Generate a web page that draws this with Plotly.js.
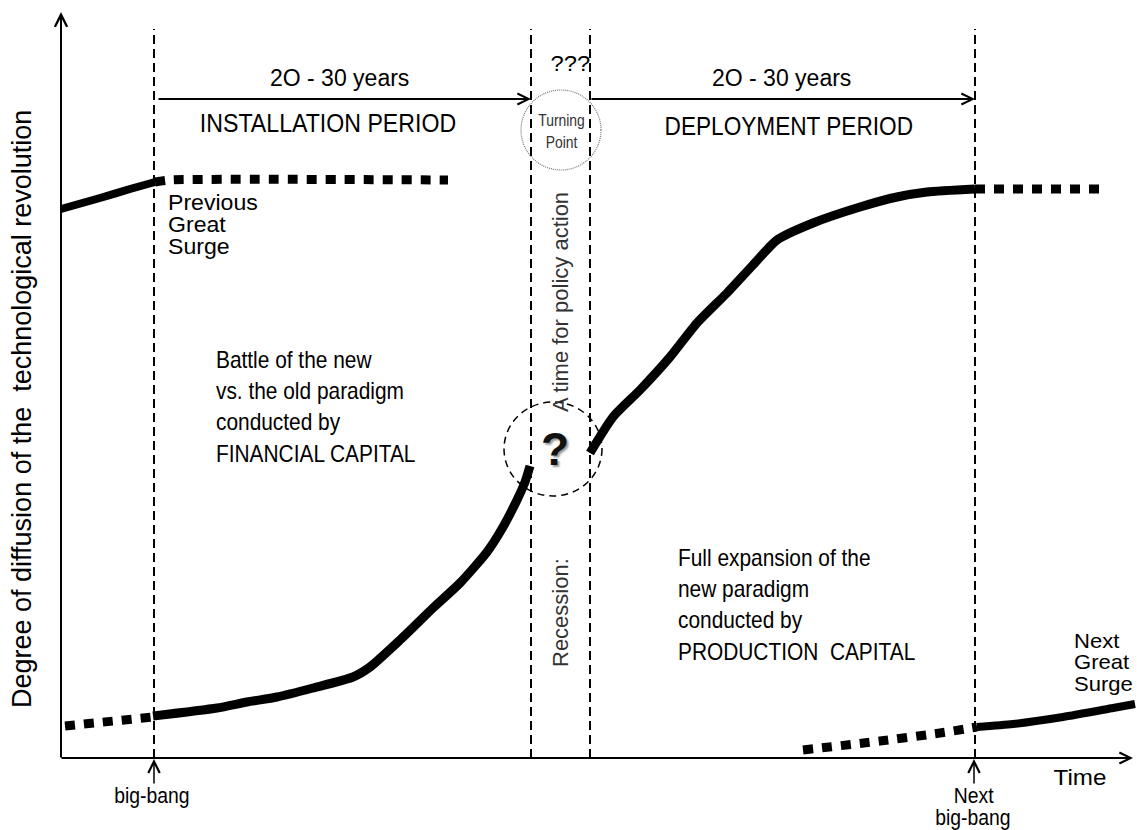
<!DOCTYPE html>
<html><head><meta charset="utf-8">
<script src="https://cdn.plot.ly/plotly-3.0.1.min.js"></script>
<style>html,body{margin:0;padding:0;background:#fff;} #chart{width:1137px;height:830px;}</style>
</head><body><div id="chart"></div>
<script>
// x = time (arbitrary units from origin), y = degree of diffusion (arbitrary units)
const prevSurgeTime = [0, 39, 69, 94];
const prevSurgeDiff = [549, 560, 569, 576];
const prevSurgeTailTime = [94, 109, 387];
const prevSurgeTailDiff = [576, 578, 578];
const leadInTime = [4, 92];
const leadInDiff = [32, 41];
const installTime = [92, 156, 186, 216, 252, 292, 309, 339, 372, 399, 426, 442, 456, 464, 469];
const installDiff = [42, 50, 56, 61, 70, 81, 91, 118, 150, 175, 206, 231, 258, 276, 292];
const deployTime = [529, 552, 579, 609, 636, 666, 692, 716, 752, 799, 836, 866, 914];
const deployDiff = [305, 341, 368, 401, 435, 465, 493, 518, 535, 551, 561, 566, 569];
const deployTailTime = [914, 1043];
const deployTailDiff = [569, 569];
const nextLeadTime = [742, 819, 879, 916];
const nextLeadDiff = [8, 17, 25, 31];
const nextSurgeTime = [916, 952, 1002, 1052, 1074];
const nextSurgeDiff = [31, 34, 41, 50, 54];
const phaseBoundaries = [93, 470, 529, 914];
const phaseTop = 729;
const bigBangTimes = [93, 913];
const periodArrowLevel = 659;
const periods = [
  {from: 96, to: 470, span: '2O - 30 years', name: 'INSTALLATION PERIOD'},
  {from: 529, to: 914, span: '2O - 30 years', name: 'DEPLOYMENT PERIOD'}
];
const yTitle = 'Degree of diffusion of the  technological revolution';
const xTitle = 'Time';

const ARIAL = '"Liberation Sans", Arial, sans-serif';
const NARROW = 0.87;   // Arial Narrow look, made by condensing Liberation Sans

function line(x, y, w, dash) {
  return {x: x, y: y, type: 'scatter', mode: 'lines', hoverinfo: 'skip',
    line: {color: '#000', width: w, dash: dash || 'solid', shape: 'spline', smoothing: 0.6}};
}
const DOT = '10px,9px';
const traces = [
  line(prevSurgeTime, prevSurgeDiff, 8),
  line(prevSurgeTailTime, prevSurgeTailDiff, 9, DOT),
  line(leadInTime, leadInDiff, 9, DOT),
  line(installTime, installDiff, 9),
  line(deployTime, deployDiff, 9),
  line(deployTailTime, deployTailDiff, 9, DOT),
  line(nextLeadTime, nextLeadDiff, 9, DOT),
  line(nextSurgeTime, nextSurgeDiff, 8)
];

const shapes = phaseBoundaries.map(t => ({type: 'line', xref: 'x', yref: 'y', x0: t, x1: t, y0: 0, y1: phaseTop,
  line: {color: '#000', width: 2, dash: '9px,5px'}}));
shapes.push({type: 'circle', xref: 'x', yref: 'y', x0: 460, x1: 540, y0: 588, y1: 668,
  line: {color: '#777', width: 1.2, dash: '1px,1px'}});
shapes.push({type: 'circle', xref: 'x', yref: 'y', x0: 443, x1: 541, y0: 262, y1: 356,
  line: {color: '#000', width: 1.5, dash: '7px,5px'}});

const annotations = [];
const stretch = {};
function arrow(x, y, ax, ay, w, size) {
  annotations.push({x: x, y: y, ax: ax, ay: ay, xref: 'x', yref: 'y', axref: 'x', ayref: 'y', text: '',
    showarrow: true, arrowhead: 5, arrowwidth: w, arrowsize: size, arrowcolor: '#000', standoff: 0});
}
function txt(x, y, text, size, opts, scaleX, color) {
  if (scaleX && scaleX !== 1) stretch[annotations.length] = {anchor: (opts && opts.xanchor) || 'center', s: scaleX};
  annotations.push(Object.assign({x: x, y: y, xref: 'x', yref: 'y', text: text, showarrow: false,
    font: {family: ARIAL, size: size, color: color || '#000'}}, opts || {}));
}
arrow(0, 746, 0, -1, 2, 1.2);
arrow(1072, 0, -1, 0, 2, 1.1);
periods.forEach(p => arrow(p.to, periodArrowLevel, p.from, periodArrowLevel, 2, 1.1));
bigBangTimes.forEach(t => arrow(t, -1, t, -27, 1.5, 1.5));

txt(278, 680, periods[0].span, 23);
txt(720, 680, periods[1].span, 23);
txt(267, 635, periods[0].name, 26, null, 0.89);
txt(728, 632, periods[1].name, 26, null, 0.87);
txt(509, 695, '???', 22, null, 1.08);
txt(500, 627, 'Turning<br>Point', 17, null, 0.82, '#333');
['Previous', 'Great', 'Surge'].forEach((s, i) => txt(105, 556 - i * 22, s, 22, {xanchor: 'left'}, 1.05));
['Next', 'Great', 'Surge'].forEach((s, i) => txt(1011, 118 - i * 21.5, s, 21, {xanchor: 'left'}, 1.05));
txt(153, 352, 'Battle of the new<br>vs. the old paradigm<br>conducted by<br>FINANCIAL CAPITAL', 24, {xanchor: 'left', align: 'left'}, NARROW);
txt(615, 154, 'Full expansion of the<br>new paradigm<br>conducted by<br>PRODUCTION  CAPITAL', 24, {xanchor: 'left', align: 'left'}, NARROW);
txt(499, 456, 'A time for policy action', 22, {textangle: -90}, 1, '#333');
txt(499, 145, 'Recession:', 22, {textangle: -90}, 1, '#333');
txt(494, 309, '<b>?</b>', 46, null, 1, '#111');
annotations[annotations.length - 1].font.shadow = '2px 2px 2px #999';
txt(1019, -19, xTitle, 22, null, 1.1);
txt(91, -37, 'big-bang', 22, null, 0.88);
txt(912, -37, 'Next', 22, null, 0.88);
txt(912, -59, 'big-bang', 22, null, 0.88);
txt(-39, 349, yTitle, 27, {textangle: -90});

const layout = {
  width: 1137, height: 830,
  margin: {l: 0, r: 0, t: 0, b: 0},
  paper_bgcolor: '#fff', plot_bgcolor: '#fff',
  showlegend: false,
  xaxis: {range: [-61, 1076], visible: false, fixedrange: true},
  yaxis: {range: [-72, 758], visible: false, fixedrange: true},
  shapes: shapes,
  annotations: annotations,
  hovermode: false
};
Plotly.newPlot('chart', traces, layout, {staticPlot: true, displayModeBar: false}).then(gd => {
  // horizontal condensing / widening of selected labels to match the original typefaces
  gd.querySelectorAll('g.annotation').forEach(g => {
    const st = stretch[g.getAttribute('data-index')];
    if (!st) return;
    const t = g.querySelector('text.annotation-text');
    if (!t) return;
    const bb = t.getBBox();
    const cx = st.anchor === 'left' ? bb.x : bb.x + bb.width / 2;
    t.setAttribute('transform', `translate(${cx},0) scale(${st.s},1) translate(${-cx},0)`);
  });
});
</script></body></html>
